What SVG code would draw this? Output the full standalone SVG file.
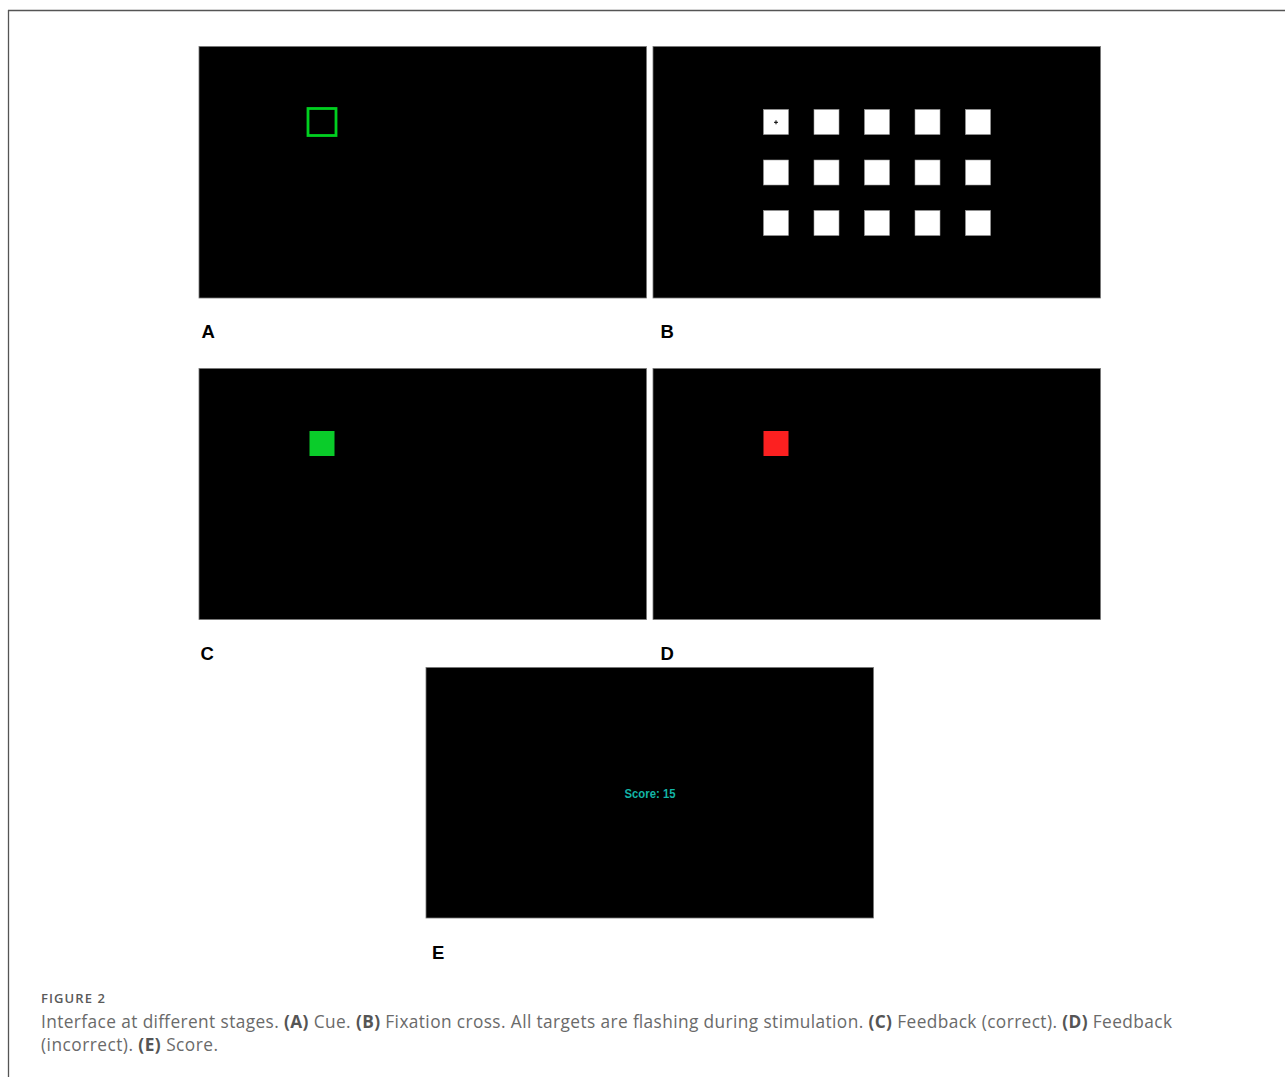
<svg xmlns="http://www.w3.org/2000/svg" width="1285" height="1077" viewBox="0 0 1285 1077">
<style>
.panel{fill:#000;stroke:#777;stroke-width:0.8}
.tile{fill:#fff;stroke:#999;stroke-width:0.6}
.lbl{font-family:"Liberation Sans",Arial,sans-serif;font-weight:bold;font-size:18.5px;fill:#000}
.cap{font-family:"Open Sans","Liberation Sans",sans-serif;font-size:17.3px;fill:#6a6a6a}
.capb{font-weight:bold;fill:#555}
</style>
<rect x="0" y="0" width="1285" height="1077" fill="#fff"/>
<g id="frame">
<line x1="8" y1="10.5" x2="1285" y2="10.5" stroke="#555" stroke-width="1.3"/>
<line x1="8.5" y1="10" x2="8.5" y2="1077" stroke="#555" stroke-width="1.3"/>
</g>
<g id="panelA">
<rect class="panel" x="199" y="46.5" width="447.5" height="251.5"/>
<rect x="308" y="108.5" width="28" height="27" fill="none" stroke="#00d020" stroke-width="2.8"/>
<text class="lbl" x="201.5" y="338">A</text>
</g>
<g id="panelB">
<rect class="panel" x="653" y="46.5" width="447.5" height="251.5"/>
<g id="grid">
<rect class="tile" x="763.5" y="109.5" width="25" height="25"/>
<rect class="tile" x="814" y="109.5" width="25" height="25"/>
<rect class="tile" x="864.5" y="109.5" width="25" height="25"/>
<rect class="tile" x="915" y="109.5" width="25" height="25"/>
<rect class="tile" x="965.5" y="109.5" width="25" height="25"/>
<rect class="tile" x="763.5" y="160" width="25" height="25"/>
<rect class="tile" x="814" y="160" width="25" height="25"/>
<rect class="tile" x="864.5" y="160" width="25" height="25"/>
<rect class="tile" x="915" y="160" width="25" height="25"/>
<rect class="tile" x="965.5" y="160" width="25" height="25"/>
<rect class="tile" x="763.5" y="210.5" width="25" height="25"/>
<rect class="tile" x="814" y="210.5" width="25" height="25"/>
<rect class="tile" x="864.5" y="210.5" width="25" height="25"/>
<rect class="tile" x="915" y="210.5" width="25" height="25"/>
<rect class="tile" x="965.5" y="210.5" width="25" height="25"/>
</g>
<path d="M774 122.3h4M776 120.3v4" stroke="#000" stroke-width="1"/>
<text class="lbl" x="660.5" y="338">B</text>
</g>
<g id="panelC">
<rect class="panel" x="199" y="368.5" width="447.5" height="251"/>
<rect x="309.5" y="431" width="25" height="25" fill="#0acc2a"/>
<text class="lbl" x="200.5" y="660">C</text>
</g>
<g id="panelD">
<rect class="panel" x="653" y="368.5" width="447.5" height="251"/>
<rect x="763.5" y="431" width="25" height="25" fill="#fc2020"/>
<text class="lbl" x="660.5" y="660">D</text>
</g>
<g id="panelE">
<rect class="panel" x="426" y="667.5" width="447.5" height="250.5"/>
<text x="650" y="797.5" text-anchor="middle" font-family="'Liberation Sans',Arial,sans-serif" font-weight="bold" font-size="12.5" fill="#13b5a6" textLength="51" lengthAdjust="spacingAndGlyphs">Score: 15</text>
<text class="lbl" x="432" y="959">E</text>
</g>
<g id="connectors"/>
<g id="caption">
<text x="41" y="1003" font-family="'Open Sans','Liberation Sans',sans-serif" font-size="13" font-weight="600" fill="#5a5a5a" textLength="64">FIGURE 2</text>
<text class="cap" x="41" y="1027.5" textLength="1131" lengthAdjust="spacing">Interface at different stages. <tspan class="capb">(A)</tspan> Cue. <tspan class="capb">(B)</tspan> Fixation cross. All targets are flashing during stimulation. <tspan class="capb">(C)</tspan> Feedback (correct). <tspan class="capb">(D)</tspan> Feedback</text>
<text class="cap" x="41" y="1050.5" textLength="177" lengthAdjust="spacing">(incorrect). <tspan class="capb">(E)</tspan> Score.</text>
</g>
</svg>
